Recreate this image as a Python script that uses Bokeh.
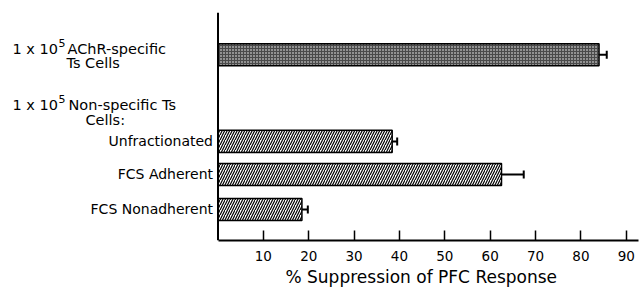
from bokeh.plotting import figure
from bokeh.models import (ColumnDataSource, Range1d, FixedTicker, Whisker, TeeHead, Label, Span, Title)
from bokeh.embed import file_html
from bokeh.resources import INLINE

# ---- data ----
categories = ["AChR-specific", "Unfractionated", "FCS Adherent", "FCS Nonadherent"]
suppression = [84.0, 38.4, 62.5, 18.5]
sem = [1.7, 1.1, 4.9, 1.3]
tick_values = [10, 20, 30, 40, 50, 60, 70, 80, 90]
x_label = "% Suppression of PFC Response"

# ---- layout (vertical slots, in slot units) ----
slot = [5.54, 2.955, 1.97, 0.925]
bar_h = 0.66
X_MAX = 92.7
X_MIN = -47.95   # room on the left of the plot area for the row labels

FONT = "DejaVu Sans"

p = figure(width=639, height=292, output_backend="svg", toolbar_location=None,
           x_range=Range1d(X_MIN, X_MAX), y_range=Range1d(0, 6.8),
           y_axis_location=None,
           min_border_left=0, min_border_right=1, min_border_top=12, min_border_bottom=52)
p.outline_line_color = None
p.xgrid.visible = False
p.ygrid.visible = False
p.background_fill_color = "white"
p.border_fill_color = "white"

src = ColumnDataSource(dict(cat=categories, val=suppression, err=sem,
                            up=[v + e for v, e in zip(suppression, sem)], y=slot))

# stippled bar (AChR-specific)
s1 = ColumnDataSource(dict(val=suppression[:1], y=slot[:1]))
p.hbar(y="y", right="val", left=0, height=bar_h, source=s1,
       fill_color="#4a4a4a", line_color="black", line_width=1.5,
       hatch_pattern="dot", hatch_color="white", hatch_scale=3, hatch_weight=1.2)

# hatched bars
s2 = ColumnDataSource(dict(val=suppression[1:], y=slot[1:]))
p.hbar(y="y", right="val", left=0, height=bar_h, source=s2,
       fill_color="white", line_color="black", line_width=1.5,
       hatch_pattern="right_diagonal_line", hatch_color="black", hatch_scale=5, hatch_weight=1.2)

w = Whisker(source=src, base="y", lower="val", upper="up", dimension="width",
            line_color="black", line_width=2, lower_head=None,
            upper_head=TeeHead(size=8, line_color="black", line_width=2))
p.add_layout(w)

# vertical axis line at x = 0
p.add_layout(Span(location=0, dimension="height", line_color="black", line_width=2))

# x axis
xa = p.xaxis[0]
xa.bounds = (0, X_MAX)
xa.ticker = FixedTicker(ticks=tick_values)
xa.axis_line_width = 2
xa.major_tick_in = 10
xa.major_tick_out = 0
xa.major_tick_line_width = 1.5
xa.minor_tick_line_color = None
xa.major_label_text_font = FONT
xa.major_label_text_font_size = "13.5px"
xa.major_label_text_color = "black"
xa.major_label_standoff = 10

# x-axis title, placed under the value axis (not the whole frame)
p.add_layout(Title(text=x_label, align="left", offset=285, text_font=FONT,
                   text_font_size="17px", text_font_style="normal", text_color="black",
                   standoff=3), "below")

# category labels for the three fractions, right-aligned next to the axis
for c, s in zip(categories[1:], slot[1:]):
    p.add_layout(Label(x=0, y=s, x_offset=-5, text=c, text_font=FONT, text_font_size="14px",
                       text_align="right", text_baseline="middle", text_color="black"))

# header labels, canvas pixel positions (y from top)
def lab(text, px, py, size="14.5px"):
    p.add_layout(Label(x=px, y=py, x_units="canvas", y_units="canvas",
                       text=text, text_font=FONT, text_font_size=size,
                       text_baseline="middle", text_align="left", text_color="black"))

lab("1 x 10", 12, 48)
lab("5", 58, 42, "11px")
lab("AChR-specific", 67, 48)
lab("Ts Cells", 66, 62)
lab("1 x 10", 12, 104)
lab("5", 58, 98, "11px")
lab("Non-specific Ts", 68, 104)
lab("Cells:", 85, 119)

open("out.html", "w").write(file_html(p, INLINE))
